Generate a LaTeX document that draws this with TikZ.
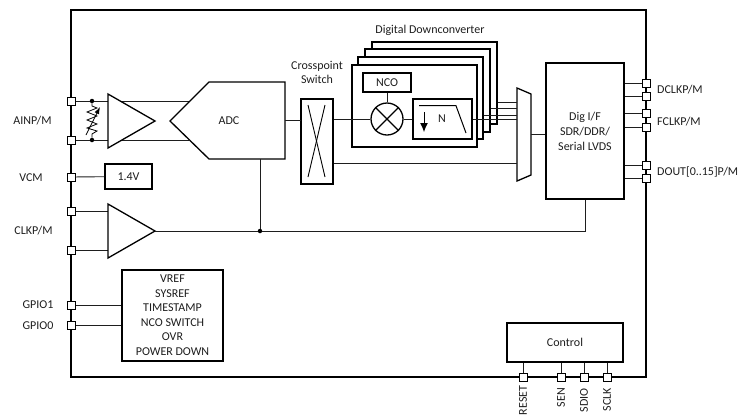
\documentclass[tikz,border=0pt]{standalone}
\usepackage{fontspec}
\usetikzlibrary{arrows.meta}
\setmainfont{Carlito}
\definecolor{ink}{RGB}{30,30,30}
\tikzset{
  px/.style={x=1pt,y=-1pt},
  wire/.style={line width=0.9pt,draw=ink},
  blockbox/.style={draw=black,line width=1.3pt,fill=white,inner sep=0pt,align=center,font=\fontsize{12}{15}\selectfont,text=ink},
  pin/.style={draw=black,line width=1pt,fill=white,minimum size=8pt,inner sep=0pt},
  lbl/.style={font=\fontsize{12}{14}\selectfont,text=ink,inner sep=0pt},
  junction/.style={circle,fill=black,minimum size=4.5pt,inner sep=0pt},
  shapeline/.style={draw=black,line width=1.3pt,fill=white,line join=miter},
}
\newcommand{\bx}[6][]{\node[blockbox,minimum width=#4 pt,minimum height=#5 pt,#1] (#2) at (#3) {#6};}
\begin{document}
\begin{tikzpicture}[px]
\useasboundingbox (0,0) rectangle (753,416);
\clip (0,0) rectangle (753,416);
% outer
\node[draw=black,line width=1.1pt,minimum width=575pt,minimum height=367pt,inner sep=0pt] (chip) at (358.5,193.5) {};
% pins
\foreach \n/\x/\y in {a1/71/101,a2/71/140,vcm/71/177,c1/71/211,c2/71/250,g1/71/305,g0/71/325,
  r1/646/83,r2/646/96,r3/646/113,r4/646/127,r5/646/165,r6/646/178,
  b1/523/377,b2/561/377,b3/584/377,b4/607/377}
  \node[pin] (\n) at (\x,\y) {};
% amplifiers & ADC
\coordinate (amptip) at (155,121);
\coordinate (clktip) at (155,231);
\coordinate (adcr) at (285,120);
% junctions
\node[junction] (j1) at (92,101) {};
\node[junction] (j2) at (92,140) {};
\node[junction] (j3) at (260,231) {};
% input wires
\coordinate (adcu) at (189,101);
\coordinate (adcl) at (189,140);
\draw[wire] (a1) -- (j1) -- (adcu);
\draw[wire] (a2) -- (j2) -- (adcl);
\draw[line width=0.8pt,draw=black] (j1) -- (92,106) -- (97,108) -- (87,112) -- (97,116) -- (87,120) -- (97,124) -- (87,128) -- (97,131) -- (92,134) -- (j2);
\draw[line width=0.8pt,draw=black,-{Latex[length=7pt,width=5pt]}] (86,135) -- (100,107);
\draw[shapeline] (108,94) -- (155,121) -- (108,148) -- cycle;
\draw[shapeline] (170,121) -- (209,82) -- (285,82) -- (285,159) -- (209,159) -- cycle;
\node[lbl] (adclbl) at (229,121) {ADC};
% vcm
\bx{ref}{128.5,176.5}{47}{25}{1.4V}
\draw[wire] (vcm) -- (ref);
% clk amp
\draw[wire] (c1) -- (108,211);
\draw[wire] (c2) -- (108,250);
\draw[shapeline] (108,204) -- (155,231) -- (108,258) -- cycle;
% gpio block
\node[blockbox,minimum width=101pt,minimum height=91pt] (gp) at (172.5,315.5) {};
\foreach \t [count=\i] in {VREF,SYSREF,TIMESTAMP,NCO SWITCH,OVR,POWER DOWN}
  \node[lbl] (gp\i) at (172.5,{264.5+14.5*\i}) {\t};
\draw[wire] (g1) -- (g1-|gp.west);
\draw[wire] (g0) -- (g0-|gp.west);
% crosspoint
\bx{xp}{317,141.5}{32}{85}{}
\draw[line width=0.9pt] (308,105) -- (325,177);
\draw[line width=0.9pt] (325,105) -- (308,177);
\node[lbl,align=center,font=\fontsize{12}{14}\selectfont] (xplbl) at (317,72) {Crosspoint\\Switch};
\draw[wire] (adcr) -- (301,120);
% ddc stack
\bx{d4}{434.5,83}{125}{82}{}
\bx{d3}{427.5,90.5}{125}{83}{}
\bx{d2}{420.5,98}{125}{82}{}
\bx{d1}{414.5,106}{125}{82}{}
\node[lbl] (ddclbl) at (430,30) {Digital Downconverter};
\bx{nco}{387,82.5}{48}{19}{NCO}
\node[draw=black,line width=1.3pt,fill=white,circle,minimum size=32pt,inner sep=0pt] (mix) at (387,119) {};
\draw[line width=1.2pt] (mix.north west) -- (mix.south east) (mix.north east) -- (mix.south west);
\draw[wire] (nco) -- (mix);
\bx{flt}{442.5,119}{59}{40}{}
\draw[line width=1pt] (419,105.7) -- (456,105.7) -- (466,133);
\draw[line width=1pt,-{Latex[length=9pt,width=8pt]}] (424,112) -- (424,132);
\node[lbl] (nlbl) at (442,119) {N};
\draw[wire] (xp.east|-mix) -- (mix);
\draw[wire] (mix) -- (flt);
% mux
\draw[shapeline] (517,88) -- (531,94) -- (531,175) -- (517,181) -- cycle;
\coordinate (muxin) at (517,119);
\draw[wire] (flt.east) -- (muxin);
\draw[wire] (d2.east|-0,115) -- (517,115);
\draw[wire] (d3.east|-0,108) -- (517,108);
\draw[wire] (d4.east|-0,102) -- (517,102);
\draw[wire] (xp.east|-0,163) -- (517,163);
% dig i/f
\bx{dig}{585,131}{78}{136}{Dig I/F\\SDR/DDR/\\Serial LVDS}
\draw[wire] (531,134) -- (dig.west|-0,134);
\draw[wire] (r1) -- (r1-|dig.east);
\draw[wire] (r2) -- (r2-|dig.east);
\draw[wire] (r3) -- (r3-|dig.east);
\draw[wire] (r4) -- (r4-|dig.east);
\draw[wire] (r5) -- (r5-|dig.east);
\draw[wire] (r6) -- (r6-|dig.east);
% clk line
\draw[wire] (clktip) -- (j3) -- (585,231) -- (dig.south);
\draw[wire] (j3) -- (260,159);
% control
\bx{ctl}{565,342.5}{116}{39}{Control}
\draw[wire] (b1) -- (b1|-ctl.south);
\draw[wire] (b2) -- (b2|-ctl.south);
\draw[wire] (b3) -- (b3|-ctl.south);
\draw[wire] (b4) -- (b4|-ctl.south);
% labels
\node[lbl] (l1) at (32.5,121) {AINP/M};
\node[lbl] (l2) at (31,178) {VCM};
\node[lbl] (l3) at (33.5,231) {CLKP/M};
\node[lbl] (l4) at (38,305) {GPIO1};
\node[lbl] (l5) at (38,326) {GPIO0};
\node[lbl,anchor=west] (l6) at (657,90) {DCLKP/M};
\node[lbl,anchor=west] (l7) at (657,122) {FCLKP/M};
\node[lbl,anchor=west] (l8) at (657,172) {DOUT[0..15]P/M};
\foreach \n/\x/\y/\t in {s1/523/385.5/RESET,s2/561/388/SEN,s3/584/388/SDIO,s4/607/388/SCLK}
  \node[lbl,rotate=90,anchor=east] (\n) at (\x,\y) {\t};
\end{tikzpicture}
\end{document}
